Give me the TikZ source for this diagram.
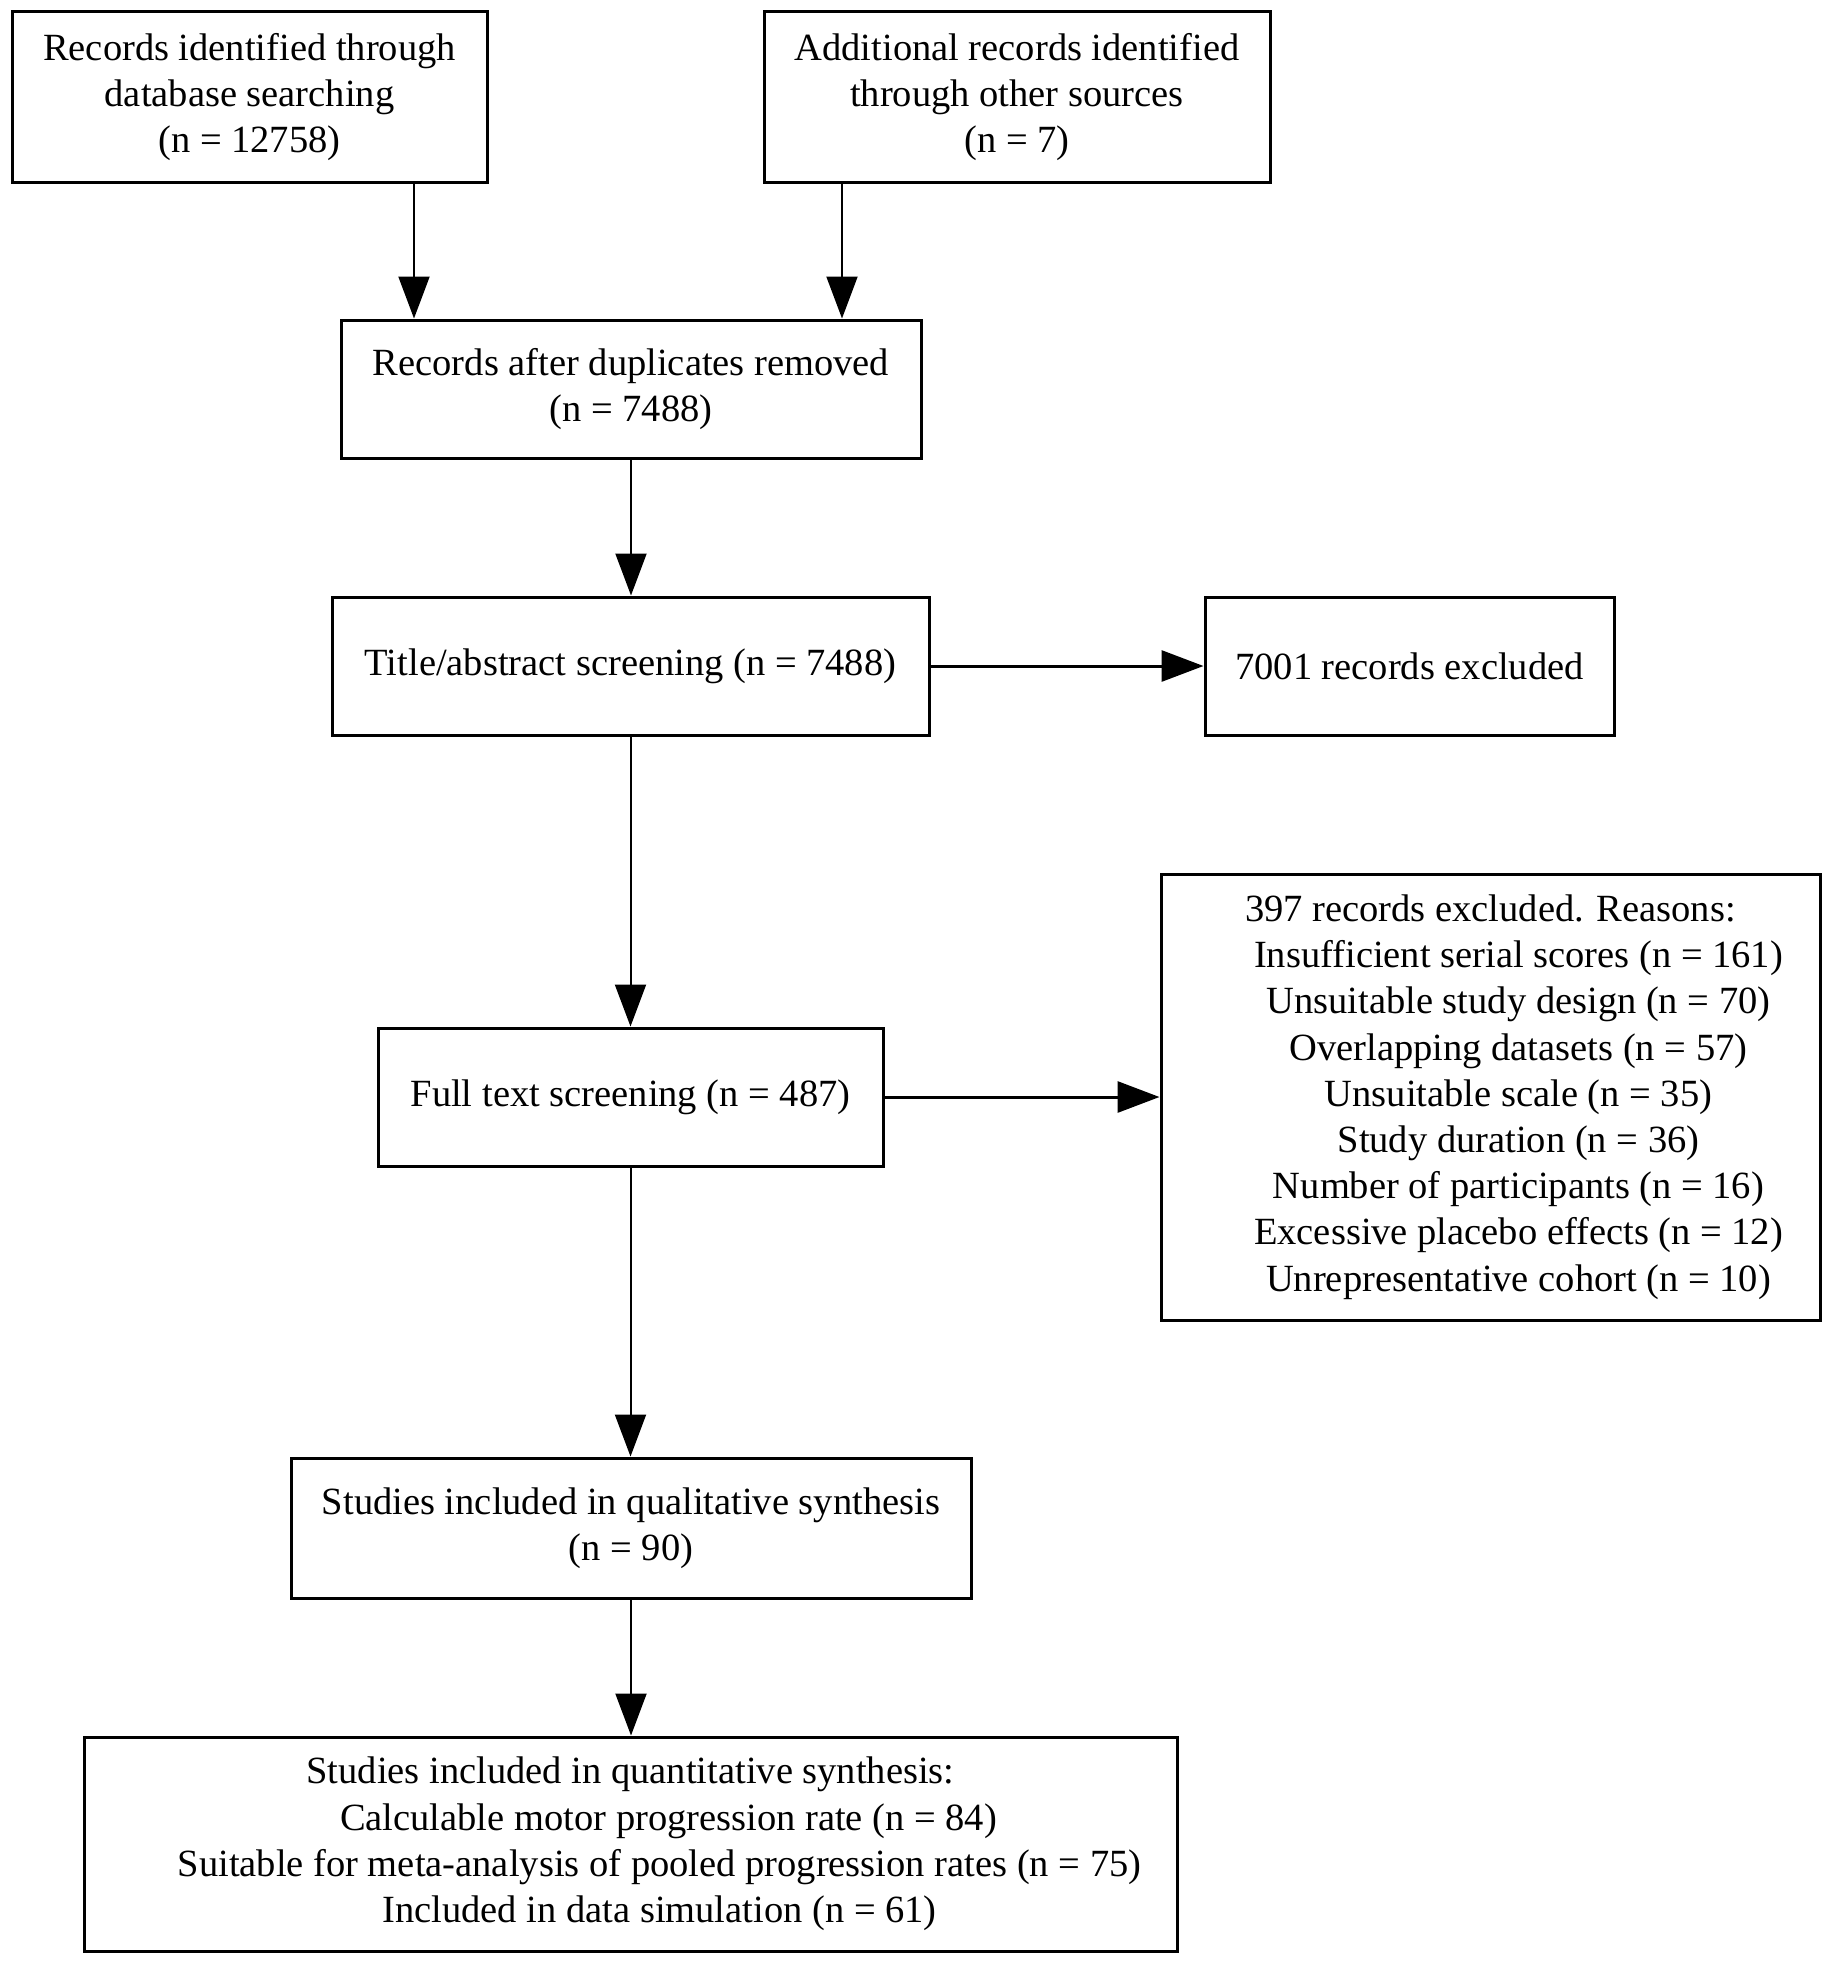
\documentclass[tikz,border=0pt]{standalone}
\usepackage{fontspec}
\setmainfont{Liberation Serif}
\usetikzlibrary{arrows.meta}
\begin{document}
\begin{tikzpicture}[x=0.5pt,y=-0.5pt,
  box/.style={draw, line width=1.5pt, rectangle, align=center, inner sep=0pt,
    font=\fontsize{19.25}{23.1}\selectfont},
  arr/.style={line width=1pt, -{Triangle[length=21pt,width=15.5pt]}},
  harr/.style={line width=1.5pt, -{Triangle[length=21pt,width=15.5pt]}}]
\useasboundingbox[fill=white] (0,0) rectangle (1831,1964);
\node[box, minimum width=237.5pt, minimum height=85pt] (b1) at (249.5,97)
  {Records identified through\\database searching\\(n = 12758)};
\node[box, minimum width=253pt, minimum height=85pt] (b2) at (1017,97)
  {Additional records identified\\through other sources\\(n = 7)};
\node[box, minimum width=290pt, minimum height=69pt] (b3) at (631,389)
  {Records after duplicates removed\\(n = 7488)};
\node[box, minimum width=298.5pt, minimum height=69pt] (b4) at (630.5,666)
  {Title/abstract screening (n = 7488)};
\node[box, minimum width=204.5pt, minimum height=69pt] (b5) at (1409.5,666)
  {7001 records excluded};
\node[box, minimum width=329.5pt, minimum height=223pt] (b6) at (1490.5,1097)
  {397 records excluded. Reasons:\\
   \hspace*{28pt}Insufficient serial scores (n = 161)\\
   \hspace*{28pt}Unsuitable study design (n = 70)\\
   \hspace*{28pt}Overlapping datasets (n = 57)\\
   \hspace*{28pt}Unsuitable scale (n = 35)\\
   \hspace*{28pt}Study duration (n = 36)\\
   \hspace*{28pt}Number of participants (n = 16)\\
   \hspace*{28pt}Excessive placebo effects (n = 12)\\
   \hspace*{28pt}Unrepresentative cohort (n = 10)};
\node[box, minimum width=252.5pt, minimum height=69pt] (b7) at (630.5,1097)
  {Full text screening (n = 487)};
\node[box, minimum width=340pt, minimum height=70pt] (b8) at (631,1528)
  {Studies included in qualitative synthesis\\(n = 90)};
\node[box, minimum width=546.5pt, minimum height=107pt] (b9) at (630.5,1844)
  {Studies included in quantitative synthesis:\\
   \hspace*{38pt}Calculable motor progression rate (n = 84)\\
   \hspace*{29pt}Suitable for meta-analysis of pooled progression rates (n = 75)\\
   \hspace*{29pt}Included in data simulation (n = 61)};
\coordinate (a1) at (414,0);
\coordinate (a2) at (842,0);
\draw[arr] (b1.south -| a1) -- (b3.north -| a1);
\draw[arr] (b2.south -| a2) -- (b3.north -| a2);
\draw[arr] (b3.south) -- (b3.south |- b4.north);
\draw[harr] (b4.east) -- (b5.west);
\draw[arr] (b4.south) -- (b4.south |- b7.north);
\draw[harr] (b7.east) -- (b7.east -| b6.west);
\draw[arr] (b7.south) -- (b7.south |- b8.north);
\draw[arr] (b8.south) -- (b8.south |- b9.north);
\end{tikzpicture}
\end{document}
